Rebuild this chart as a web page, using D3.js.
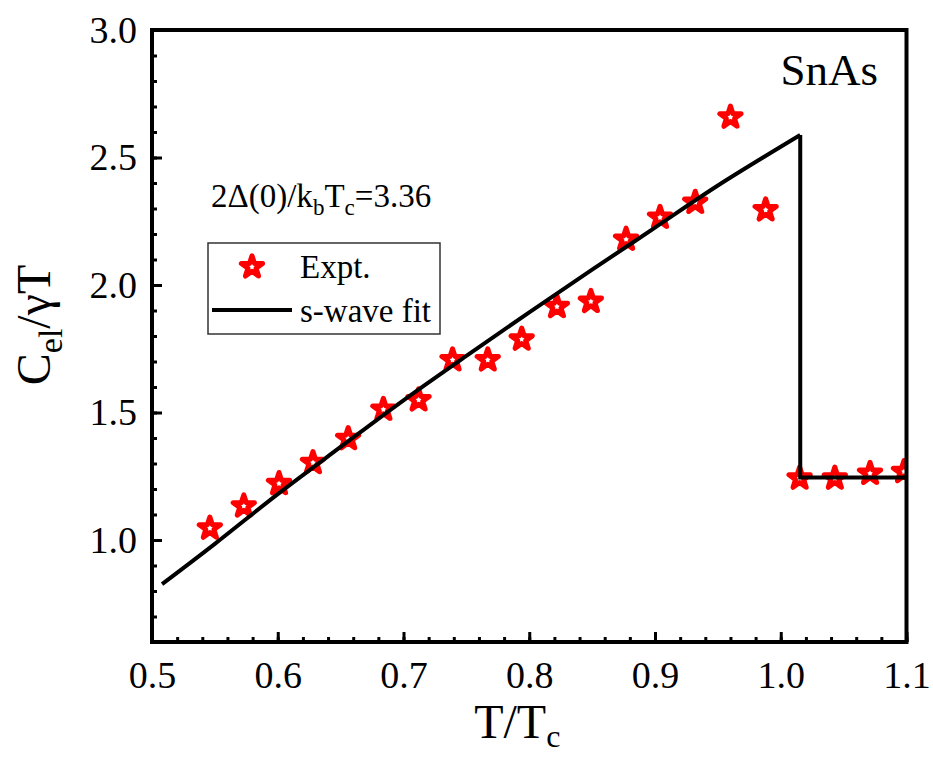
<!DOCTYPE html>
<html>
<head>
  <title>SnAs specific heat</title>
  <script src="https://d3js.org/d3.v7.min.js"></script>
  <style>
    body { margin: 0; background: #fff; }
    text { font-family: "Liberation Serif", "Times New Roman", serif; fill: #000; }
    .tick line { stroke: #000; stroke-width: 3px; }
  </style>
</head>
<body>
  <svg id="chart" width="933" height="757"></svg>

  <script>
    // experimental points
    var tRatio = [0.546, 0.573, 0.601, 0.628, 0.656, 0.684, 0.712, 0.739, 0.767, 0.794, 0.822,
                  0.849, 0.877, 0.904, 0.932, 0.960, 0.988, 1.015, 1.043, 1.071, 1.098];
    var cExpt = [1.046, 1.133, 1.221, 1.303, 1.397, 1.512, 1.549, 1.706, 1.706, 1.787, 1.915,
                 1.935, 2.179, 2.265, 2.324, 2.658, 2.294, 1.242, 1.242, 1.261, 1.268];

    // s-wave fit curve
    var fitT = [0.508, 0.55, 0.60, 0.65, 0.70, 0.75, 0.80, 0.85, 0.90, 0.95, 1.0155, 1.0155, 1.1];
    var fitC = [0.827, 0.985, 1.18, 1.365, 1.548, 1.722, 1.893, 2.06, 2.225, 2.39, 2.588, 1.245, 1.245];

    var xTicks = [0.5, 0.6, 0.7, 0.8, 0.9, 1.0, 1.1];
    var yTicks = [1.0, 1.5, 2.0, 2.5, 3.0];

    var margin = { top: 30, right: 26.5, bottom: 115, left: 152 };
    var width = 933 - margin.left - margin.right;
    var height = 757 - margin.top - margin.bottom;

    var svg = d3.select("#chart")
      .append("g")
      .attr("transform", "translate(" + margin.left + "," + margin.top + ")");

    var x = d3.scaleLinear().domain([0.5, 1.1]).range([0, width]);
    var y = d3.scaleLinear().domain([0.6, 3.0]).range([height, 0]);

    svg.append("clipPath").attr("id", "clip")
      .append("rect").attr("width", width).attr("height", height);

    // minor ticks
    svg.append("g")
      .attr("transform", "translate(0," + height + ")")
      .call(d3.axisBottom(x).tickValues(d3.range(0.52, 1.1, 0.02)).tickSize(-5).tickFormat(""))
      .call(function(g) { g.select(".domain").remove(); });
    svg.append("g")
      .call(d3.axisLeft(y).tickValues(d3.range(0.7, 3.0, 0.1)).tickSize(-5).tickFormat(""))
      .call(function(g) { g.select(".domain").remove(); });

    // major ticks + labels
    var xAxis = svg.append("g")
      .attr("transform", "translate(0," + height + ")")
      .call(d3.axisBottom(x).tickValues(xTicks).tickSize(-10).tickPadding(19).tickFormat(d3.format(".1f")));
    xAxis.select(".domain").remove();
    xAxis.selectAll("text").style("font-size", "38px");

    var yAxis = svg.append("g")
      .call(d3.axisLeft(y).tickValues(yTicks).tickSize(-10).tickPadding(15).tickFormat(d3.format(".1f")));
    yAxis.select(".domain").remove();
    yAxis.selectAll("text").style("font-size", "38px");

    // experimental stars
    var star = d3.symbol().type(d3.symbolStar).size(140);
    svg.append("g").attr("clip-path", "url(#clip)")
      .selectAll("path")
      .data(tRatio)
      .enter().append("path")
      .attr("d", star)
      .attr("transform", function(d, i) { return "translate(" + x(d) + "," + y(cExpt[i]) + ")"; })
      .attr("fill", "#fff")
      .attr("stroke", "#ff0000")
      .attr("stroke-width", 5)
      .attr("stroke-linejoin", "round");

    // fit line: smooth part below Tc, then the jump and the normal state
    var fitPts = fitT.map(function(d, i) { return i; });
    svg.append("path")
      .datum(fitPts.slice(0, 11))
      .attr("d", d3.line()
        .x(function(i) { return x(fitT[i]); })
        .y(function(i) { return y(fitC[i]); })
        .curve(d3.curveCatmullRom))
      .attr("fill", "none").attr("stroke", "#000").attr("stroke-width", 4);
    svg.append("path")
      .datum(fitPts.slice(10))
      .attr("d", d3.line()
        .x(function(i) { return x(fitT[i]); })
        .y(function(i) { return y(fitC[i]); }))
      .attr("fill", "none").attr("stroke", "#000").attr("stroke-width", 4)
      .attr("stroke-linejoin", "miter");

    // frame
    svg.append("rect")
      .attr("width", width).attr("height", height)
      .attr("fill", "none").attr("stroke", "#000").attr("stroke-width", 4);

    // annotations
    svg.append("text")
      .attr("x", 878 - margin.left).attr("y", 85 - margin.top)
      .attr("text-anchor", "end")
      .style("font-size", "45px")
      .text("SnAs");

    var gap = svg.append("text")
      .attr("x", 211 - margin.left).attr("y", 207 - margin.top)
      .style("font-size", "33px");
    gap.append("tspan").text("2Δ(0)/k");
    gap.append("tspan").attr("dy", 8).style("font-size", "23px").text("b");
    gap.append("tspan").attr("dy", -8).text("T");
    gap.append("tspan").attr("dy", 8).style("font-size", "23px").text("c");
    gap.append("tspan").attr("dy", -8).text("=3.36");

    // legend
    var legend = svg.append("g").attr("transform", "translate(" + (208 - margin.left) + "," + (243 - margin.top) + ")");
    legend.append("rect")
      .attr("width", 232).attr("height", 91)
      .attr("fill", "#fff").attr("stroke", "#333").attr("stroke-width", 1.5);
    legend.append("path")
      .attr("d", star)
      .attr("transform", "translate(44,24)")
      .attr("fill", "#fff").attr("stroke", "#ff0000").attr("stroke-width", 5)
      .attr("stroke-linejoin", "round");
    legend.append("text").attr("x", 92).attr("y", 35).style("font-size", "33px").text("Expt.");
    legend.append("line")
      .attr("x1", 4).attr("x2", 84).attr("y1", 67).attr("y2", 67)
      .attr("stroke", "#000").attr("stroke-width", 4);
    legend.append("text").attr("x", 92).attr("y", 79).style("font-size", "33px").text("s-wave fit");

    // axis titles
    var xt = svg.append("text")
      .attr("x", width / 2 - 12).attr("y", 738 - margin.top)
      .attr("text-anchor", "middle")
      .style("font-size", "48px");
    xt.append("tspan").text("T/T");
    xt.append("tspan").attr("dy", 9).style("font-size", "32px").text("c");

    var yt = svg.append("text")
      .attr("transform", "translate(" + (50 - margin.left) + "," + (325 - margin.top) + ") rotate(-90)")
      .attr("text-anchor", "middle")
      .style("font-size", "48px");
    yt.append("tspan").text("C");
    yt.append("tspan").attr("dy", 12).style("font-size", "34px").text("el");
    yt.append("tspan").attr("dy", -12).text("/γT");
  </script>
</body>
</html>
